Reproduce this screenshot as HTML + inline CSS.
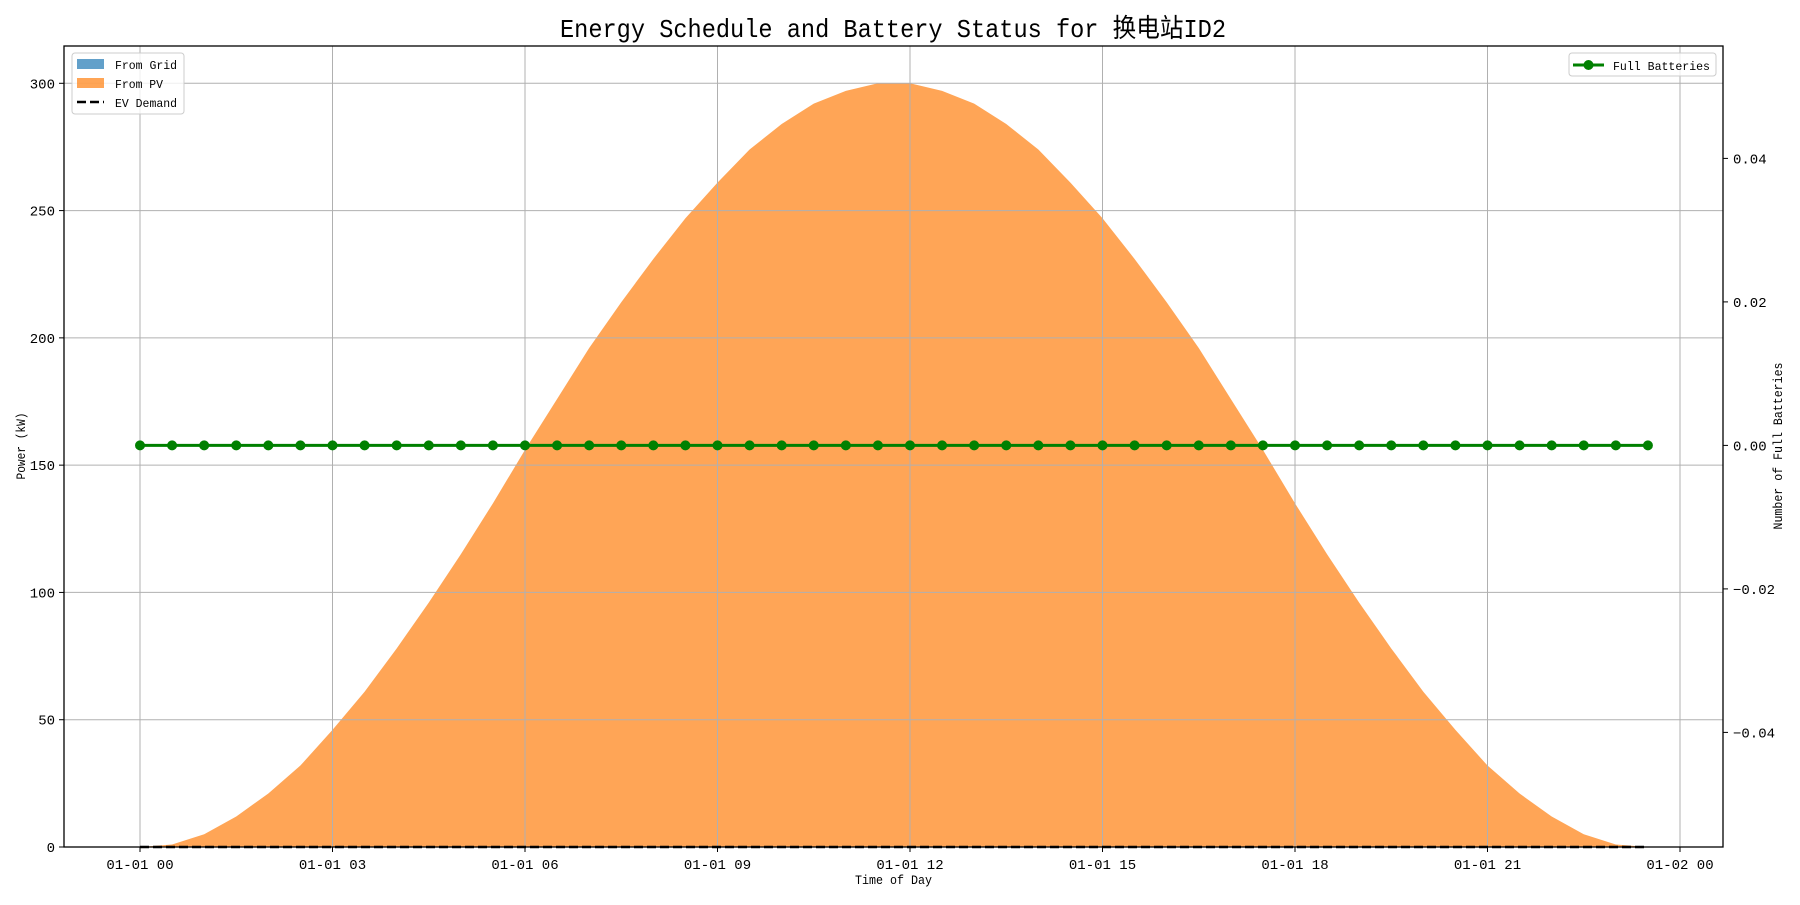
<!DOCTYPE html>
<html><head><meta charset="utf-8"><style>
html,body{margin:0;padding:0;background:#fff;}
svg text{font-family:"Liberation Mono","Noto Sans CJK SC",monospace;fill:#000;}
</style></head><body>
<svg id="chart" width="1800" height="900" xmlns="http://www.w3.org/2000/svg">
<text x="893" y="37" text-anchor="middle" font-size="26" textLength="666" lengthAdjust="spacingAndGlyphs">Energy Schedule and Battery Status for 换电站ID2</text>
<g id="plot"></g>
</svg>
<script>
const hours = [0,0.5,1,1.5,2,2.5,3,3.5,4,4.5,5,5.5,6,6.5,7,7.5,8,8.5,9,9.5,10,10.5,11,11.5,12,12.5,13,13.5,14,14.5,15,15.5,16,16.5,17,17.5,18,18.5,19,19.5,20,20.5,21,21.5,22,22.5,23,23.5];
const pvPower = [0,1,5,12,21,32,46,61,78,96,115,135,156,176,196,214,231,247,261,274,284,292,297,300,300,297,292,284,274,261,247,231,214,196,176,156,135,115,96,78,61,46,32,21,12,5,1,0];
const gridPower = new Array(48).fill(0);
const evDemand = new Array(48).fill(0);
const fullBatteries = new Array(48).fill(0);
const xTickHours = [0,3,6,9,12,15,18,21,24];
const xTickLabels = ["01-01 00","01-01 03","01-01 06","01-01 09","01-01 12","01-01 15","01-01 18","01-01 21","01-02 00"];
const yTicks = [0,50,100,150,200,250,300];
const y2Ticks = [-0.04,-0.02,0,0.02,0.04];
const y2Labels = ["−0.04","−0.02","0.00","0.02","0.04"];

const L=64,R=1723,T=46,B=847;
const X=h=>140+h*(1540/24);
const Y=v=>847-v*(847-83.3)/300;
const Y2=v=>445.4-v*7175;
const NS="http://www.w3.org/2000/svg";
const g=document.getElementById('plot');
function mk(tag,attrs,parent){const e=document.createElementNS(NS,tag);for(const k in attrs)e.setAttribute(k,attrs[k]);(parent||g).appendChild(e);return e;}

let d='M'+X(hours[0])+','+Y(gridPower[0]);
hours.forEach((h,i)=>{d+=' L'+X(h)+','+Y(gridPower[i]+pvPower[i]);});
for(let i=hours.length-1;i>=0;i--)d+=' L'+X(hours[i])+','+Y(gridPower[i]);
const pv=mk('path',{d:d+'Z',fill:'#ff7f0e','fill-opacity':0.7});



xTickHours.forEach((h,i)=>{
  const l=mk('line',{x1:X(h),x2:X(h),y1:T,y2:B,stroke:'#b0b0b0','stroke-width':1});
  
  
  mk('line',{x1:X(h),x2:X(h),y1:B,y2:B+5,stroke:'#000'});
  const t=mk('text',{x:X(h),y:B+22,'text-anchor':'middle','font-size':14});
  t.textContent=xTickLabels[i];
  
  
});
yTicks.forEach(v=>{
  const l=mk('line',{x1:L,x2:R,y1:Y(v),y2:Y(v),stroke:'#b0b0b0','stroke-width':1});
  
  
  mk('line',{x1:L-5,x2:L,y1:Y(v),y2:Y(v),stroke:'#000'});
  const t=mk('text',{x:L-9,y:Y(v)+5,'text-anchor':'end','font-size':14});
  t.textContent=v;
  
  
});
y2Ticks.forEach((v,i)=>{
  mk('line',{x1:R,x2:R+5,y1:Y2(v),y2:Y2(v),stroke:'#000'});
  const t=mk('text',{x:R+10,y:Y2(v)+5,'font-size':14});
  t.textContent=y2Labels[i];
  
  
});

const ev=mk('polyline',{points:hours.map((h,i)=>X(h)+','+Y(evDemand[i])).join(' '),fill:'none',stroke:'#000','stroke-width':2.5,'stroke-dasharray':'9,4'});



const fb=mk('polyline',{points:hours.map((h,i)=>X(h)+','+Y2(fullBatteries[i])).join(' '),fill:'none',stroke:'#008000','stroke-width':3});


hours.forEach((h,i)=>{
  const c=mk('circle',{cx:X(h),cy:Y2(fullBatteries[i]),r:5,fill:'#008000'});
  
  
});

const fr=mk('rect',{x:L,y:T,width:R-L,height:B-T,fill:'none',stroke:'#000','stroke-width':1.3});



let t=mk('text',{x:(L+R)/2,y:884,'text-anchor':'middle','font-size':13,textLength:77,lengthAdjust:'spacingAndGlyphs'});
t.textContent='Time of Day';


t=mk('text',{x:0,y:0,'text-anchor':'middle','font-size':13,textLength:67,lengthAdjust:'spacingAndGlyphs',transform:'translate(25,446) rotate(-90)'});
t.textContent='Power (kW)';


t=mk('text',{x:0,y:0,'text-anchor':'middle','font-size':13,textLength:167,lengthAdjust:'spacingAndGlyphs',transform:'translate(1782,446) rotate(-90)'});
t.textContent='Number of Full Batteries';



const lg=mk('g',{});


mk('rect',{x:72,y:53,width:112,height:61,rx:3,fill:'#fff','fill-opacity':0.8,stroke:'#ccc'},lg);
mk('rect',{x:77,y:59,width:27,height:10,fill:'#1f77b4','fill-opacity':0.7},lg);
mk('rect',{x:77,y:78,width:27,height:10,fill:'#ff7f0e','fill-opacity':0.7},lg);
mk('line',{x1:77,x2:104,y1:102,y2:102,stroke:'#000','stroke-width':2.5,'stroke-dasharray':'9,4'},lg);
[['From Grid',69,62],['From PV',88,48],['EV Demand',107,62]].forEach(([s,y,w])=>{
  const e=mk('text',{x:115,y:y,'font-size':12,textLength:w,lengthAdjust:'spacingAndGlyphs'},lg);e.textContent=s;
  
  
});
const rg=mk('g',{});


mk('rect',{x:1569,y:53,width:147,height:23,rx:3,fill:'#fff','fill-opacity':0.8,stroke:'#ccc'},rg);
mk('line',{x1:1573,x2:1604,y1:65,y2:65,stroke:'#008000','stroke-width':3},rg);
mk('circle',{cx:1588.5,cy:65,r:5,fill:'#008000'},rg);
const re=mk('text',{x:1613,y:70,'font-size':12,textLength:97,lengthAdjust:'spacingAndGlyphs'},rg);re.textContent='Full Batteries';


</script>
</body></html>
